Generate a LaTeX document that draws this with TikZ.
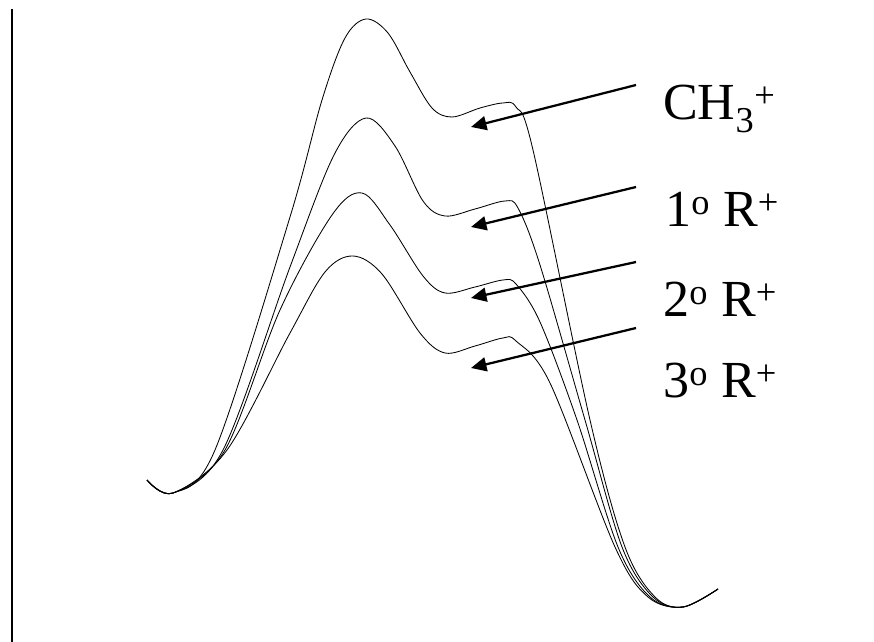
\documentclass[tikz,border=0pt]{standalone}
\usepackage{fontspec}
\setmainfont{Liberation Serif}
\usetikzlibrary{arrows.meta}
\tikzset{
  pes/.style={line width=0.6pt},
  lab/.style={anchor=base west, inner sep=0pt, font=\fontsize{37}{44}\selectfont},
  pointer/.style={line width=1.6pt, -{Triangle[length=11pt,width=10pt]}}
}

\begin{document}
\begin{tikzpicture}[x=0.025cm, y=-0.025cm]
            \useasboundingbox (0,0) rectangle (874,642);
            \draw[line width=1.2pt] (12,9) -- (12,642);
            % CH3+
            \draw[pes] plot[smooth, tension=0.55] coordinates {(147,480) (173,493) (215,450) (290,217) (322,100) (345,38) (366,19) (388,33) (410,72) (432,108) (452,117) (480,108) (503,103) (516,107) (533,150) (590,420) (625,547) (655,597) (683,607) (718,589)};
            % 1 R+
            \draw[pes] plot[smooth, tension=0.55] coordinates {(147,480) (173,493) (223,450) (290,267) (334,155) (366,118) (395,146) (423,201) (445,216) (475,209) (505,201) (518,208) (540,265) (585,420) (622,547) (653,597) (683,607) (718,589)};
            % 2 R+
            \draw[pes] plot[smooth, tension=0.55] coordinates {(147,480) (173,493) (225,450) (280,310) (332,215) (362,193) (390,225) (423,276) (445,293) (475,287) (503,280) (516,284) (540,322) (577,420) (618,547) (650,597) (683,607) (718,589)};
            % 3 R+
            \draw[pes] plot[smooth, tension=0.55] coordinates {(147,480) (173,493) (227,450) (290,333) (325,272) (353,256) (382,274) (420,333) (445,353) (475,346) (503,338) (516,341) (550,383) (615,547) (648,597) (683,607) (718,589)};

            \node[lab] (ch3) at (663,120) {CH\textsubscript{3}\textsuperscript{+}};
            \node[lab] (prim) at (665,227) {1\textsuperscript{o} R\textsuperscript{+}};
            \node[lab] (sec) at (663,317) {2\textsuperscript{o} R\textsuperscript{+}};
            \node[lab] (tert) at (663,398) {3\textsuperscript{o} R\textsuperscript{+}};

            \coordinate (s1) at (636,85);   \coordinate (t1) at (471,127);
            \coordinate (s2) at (636,187);  \coordinate (t2) at (471,227);
            \coordinate (s3) at (636,262);  \coordinate (t3) at (471,298);
            \coordinate (s4) at (636,328);  \coordinate (t4) at (471,368);
            \foreach \i in {1,...,4}
              \draw[pointer] (s\i) -- (t\i);
        \end{tikzpicture}
\end{document}
